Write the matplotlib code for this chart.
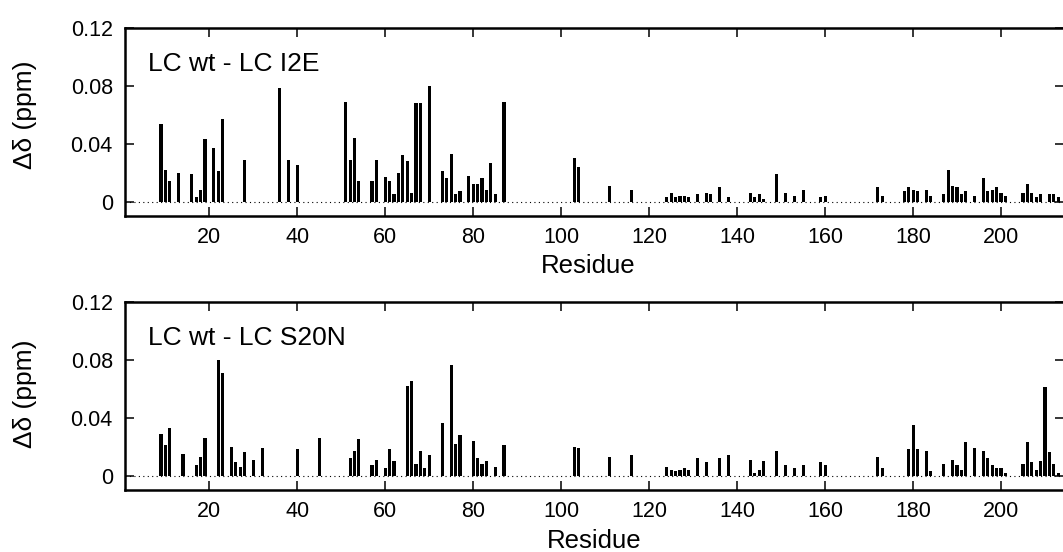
import matplotlib.pyplot as plt

# --- Chemical shift differences per residue ---
residuos_i2e = [9, 10, 11, 13, 16, 17, 18, 19, 21, 22, 23, 28, 36, 38, 40,
                51, 52, 53, 54, 57, 58, 60, 61, 62, 63, 64, 65, 66, 67, 68, 70,
                73, 74, 75, 76, 77, 79, 80, 81, 82, 83, 84, 85, 87, 103, 104,
                111, 116, 124, 125, 126, 127, 128, 129, 131, 133, 134, 136, 138,
                143, 144, 145, 146, 149, 151, 153, 155, 159, 160, 172, 173,
                178, 179, 180, 181, 183, 184, 187, 188, 189, 190, 191, 192, 194,
                196, 197, 198, 199, 200, 201, 205, 206, 207, 208, 209, 211, 212, 213]
delta_i2e = [0.054, 0.022, 0.014, 0.020, 0.019, 0.003, 0.008, 0.043, 0.037, 0.021, 0.057, 0.029, 0.079, 0.029, 0.025,
             0.069, 0.029, 0.044, 0.014, 0.014, 0.029, 0.017, 0.014, 0.005, 0.020, 0.032, 0.028, 0.006, 0.068, 0.068, 0.080,
             0.021, 0.016, 0.033, 0.005, 0.007, 0.018, 0.012, 0.012, 0.016, 0.008, 0.027, 0.005, 0.069, 0.030, 0.024,
             0.011, 0.008, 0.003, 0.006, 0.003, 0.004, 0.004, 0.003, 0.005, 0.006, 0.005, 0.010, 0.003,
             0.006, 0.003, 0.005, 0.002, 0.019, 0.006, 0.004, 0.008, 0.003, 0.004, 0.010, 0.004,
             0.007, 0.010, 0.008, 0.007, 0.008, 0.004, 0.005, 0.022, 0.011, 0.010, 0.005, 0.007, 0.004,
             0.016, 0.007, 0.008, 0.010, 0.006, 0.004, 0.006, 0.012, 0.006, 0.003, 0.005, 0.005, 0.005, 0.003]

residuos_s20n = [9, 10, 11, 14, 17, 18, 19, 22, 23, 25, 26, 27, 28, 30, 32, 40, 45,
                 52, 53, 54, 57, 58, 60, 61, 62, 65, 66, 67, 68, 69, 70,
                 73, 75, 76, 77, 80, 81, 82, 83, 85, 87, 103, 104, 111, 116,
                 124, 125, 126, 127, 128, 129, 131, 133, 136, 138,
                 143, 144, 145, 146, 149, 151, 153, 155, 159, 160, 172, 173,
                 179, 180, 181, 183, 184, 187, 189, 190, 191, 192, 194,
                 196, 197, 198, 199, 200, 201, 205, 206, 207, 208, 209, 210, 211, 212, 213]
delta_s20n = [0.029, 0.021, 0.033, 0.015, 0.007, 0.013, 0.026, 0.080, 0.071, 0.020, 0.009, 0.006, 0.016, 0.011, 0.019, 0.018, 0.026,
              0.012, 0.017, 0.025, 0.007, 0.011, 0.005, 0.018, 0.010, 0.062, 0.065, 0.008, 0.017, 0.005, 0.014,
              0.036, 0.076, 0.022, 0.028, 0.024, 0.012, 0.008, 0.010, 0.006, 0.021, 0.020, 0.019, 0.013, 0.014,
              0.006, 0.004, 0.003, 0.004, 0.005, 0.004, 0.012, 0.009, 0.012, 0.014,
              0.011, 0.002, 0.004, 0.010, 0.017, 0.007, 0.005, 0.007, 0.009, 0.007, 0.013, 0.005,
              0.018, 0.035, 0.018, 0.017, 0.003, 0.008, 0.011, 0.007, 0.004, 0.023, 0.019,
              0.017, 0.012, 0.007, 0.005, 0.005, 0.002, 0.008, 0.023, 0.009, 0.004, 0.010, 0.061, 0.016, 0.008, 0.002]

paneles = [
    ('LC wt - LC I2E', residuos_i2e, delta_i2e),
    ('LC wt - LC S20N', residuos_s20n, delta_s20n),
]

yticks = [0, 0.04, 0.08, 0.12]
ytick_labels = ['0', '0.04', '0.08', '0.12']
xticks = [20, 40, 60, 80, 100, 120, 140, 160, 180, 200]

plt.rcParams['font.family'] = ['Liberation Sans', 'DejaVu Sans']

fig = plt.figure(figsize=(10.63, 5.52), dpi=100)
posiciones = [[0.1179, 0.6087, 0.8830, 0.3400],
              [0.1179, 0.1123, 0.8830, 0.3411]]
# label placement per panel: (ylabel y, xlabel x, xlabel y)
etiquetas = [(0.538, 0.493, -0.205), (0.51, 0.50, -0.207)]

for (titulo, res, delta), pos, (ly, lx, lxy) in zip(paneles, posiciones, etiquetas):
    ax = fig.add_axes(pos)
    ax.bar(res, delta, width=0.72, color='black', linewidth=0)
    ax.axhline(0, color='black', linewidth=0.8, linestyle=(0, (1, 3)), zorder=0)

    ax.set_xlim(0.9, 214.3)
    ax.set_ylim(-0.01, 0.12)
    ax.set_xticks(xticks)
    ax.set_yticks(yticks)
    ax.set_yticklabels(ytick_labels)
    ax.tick_params(direction='in', length=6.5, width=1.1, labelsize=15.5,
                   top=True, right=True)
    ax.tick_params(axis='y', pad=9)
    ax.tick_params(axis='x', pad=8)
    for s in ax.spines.values():
        s.set_linewidth(1.8)

    ax.set_xlabel('Residue', fontsize=18.5)
    ax.xaxis.set_label_coords(lx, lxy)
    ax.set_ylabel('Δδ (ppm)', fontsize=19)
    ax.yaxis.set_label_coords(-0.094, ly)
    ax.text(0.0245, 0.77, titulo, transform=ax.transAxes, fontsize=19,
            va='baseline', ha='left')

fig.savefig('out.png', dpi=100)
